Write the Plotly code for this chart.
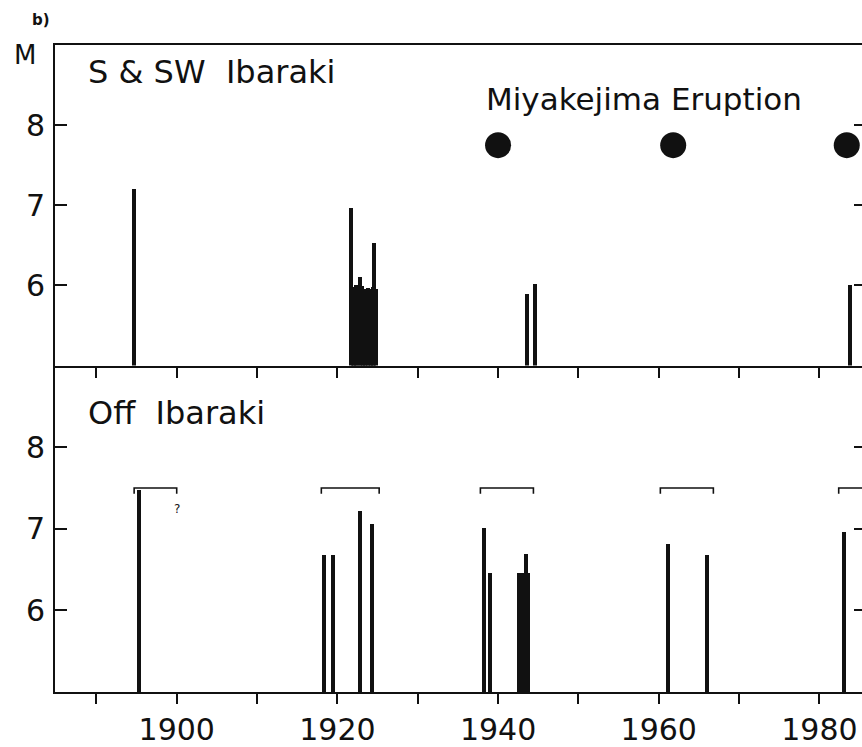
import plotly.graph_objects as go

# ---------------- data ----------------
# S & SW Ibaraki (upper panel)
top_years = [1894.7, 1921.7, 1921.9, 1922.1, 1922.3, 1922.5, 1922.8, 1923.0, 1923.2,
             1923.4, 1923.6, 1923.8, 1924.0, 1924.2, 1924.4, 1924.55, 1924.8,
             1943.6, 1944.6, 1983.85]
top_mag = [7.20, 6.97, 5.98, 5.95, 6.00, 5.97, 6.10, 5.99, 5.93,
           5.96, 5.94, 5.97, 5.95, 5.96, 5.98, 6.53, 5.96,
           5.89, 6.02, 6.00]

# Off Ibaraki (lower panel)
off_years = [1895.3, 1918.35, 1919.4, 1922.8, 1924.3,
             1938.2, 1939.0, 1942.6, 1942.85, 1943.1, 1943.45, 1943.75,
             1961.1, 1966.05, 1983.1]
off_mag = [7.48, 6.68, 6.69, 7.22, 7.07,
           7.01, 6.46, 6.46, 6.46, 6.47, 6.70, 6.46,
           6.82, 6.68, 6.97]

# Miyakejima eruptions
eruption_years = [1940.0, 1961.8, 1983.4]
eruption_mag = [7.75, 7.75, 7.75]

# brackets over the Off Ibaraki sequences
bracket_start = [1894.7, 1918.0, 1937.8, 1960.2, 1982.4]
bracket_end = [1900.0, 1925.2, 1944.4, 1966.8, 1986.5]
bracket_level = 7.5

x_tick_vals = [1890, 1900, 1910, 1920, 1930, 1940, 1950, 1960, 1970, 1980]
x_tick_text = ["", "1900", "", "1920", "", "1940", "", "1960", "", "1980"]
y_tick_vals = [6, 7, 8]
y_tick_text = ["6", "7", "8"]
base_mag = 5
y_range = [5, 9]
x_range = [1884.85, 1985.3]

# ---------------- figure ----------------
INK = "#111111"
FONT = "DejaVu Sans"

fig = go.Figure()

fig.add_trace(go.Bar(
    x=top_years, y=[m - base_mag for m in top_mag], base=base_mag,
    width=0.5, marker=dict(color=INK, line=dict(width=0)),
    xaxis="x", yaxis="y", showlegend=False))

fig.add_trace(go.Scatter(
    x=eruption_years, y=eruption_mag, mode="markers",
    marker=dict(size=26, color=INK, line=dict(width=0)),
    xaxis="x", yaxis="y", showlegend=False))

fig.add_trace(go.Bar(
    x=off_years, y=[m - base_mag for m in off_mag], base=base_mag,
    width=0.5, marker=dict(color=INK, line=dict(width=0)),
    xaxis="x2", yaxis="y2", showlegend=False))

bx, by = [], []
for s, e in zip(bracket_start, bracket_end):
    bx += [s, s, e, e, None]
    by += [bracket_level - 0.07, bracket_level, bracket_level, bracket_level - 0.07, None]
fig.add_trace(go.Scatter(
    x=bx, y=by, mode="lines", line=dict(color=INK, width=1.6),
    xaxis="x2", yaxis="y2", showlegend=False, cliponaxis=True))

# invisible traces for right-hand tick axes
fig.add_trace(go.Scatter(x=[x_range[0]], y=[5], mode="markers", marker=dict(opacity=0),
                         xaxis="x", yaxis="y3", showlegend=False, hoverinfo="skip"))
fig.add_trace(go.Scatter(x=[x_range[0]], y=[5], mode="markers", marker=dict(opacity=0),
                         xaxis="x2", yaxis="y4", showlegend=False, hoverinfo="skip"))

split = 329 / 652

common_x = dict(range=x_range, tickvals=x_tick_vals, ticks="outside", ticklen=10,
                tickwidth=2, tickcolor=INK, showline=True, linewidth=2, linecolor=INK,
                showgrid=False, zeroline=False, domain=[0, 1])
common_y = dict(range=y_range, tickvals=y_tick_vals, ticktext=y_tick_text,
                ticks="inside", ticklen=12, tickwidth=2, tickcolor=INK,
                showline=True, linewidth=2, linecolor=INK, showgrid=False,
                zeroline=False, tickfont=dict(family=FONT, size=30, color=INK),
                ticklabelstandoff=2)
right_y = dict(range=y_range, tickvals=y_tick_vals, ticks="inside", ticklen=8,
               tickwidth=2, tickcolor=INK, showticklabels=False, showline=False,
               showgrid=False, zeroline=False, side="right")

fig.update_layout(
    width=862, height=747,
    margin=dict(l=55, r=0, t=45, b=50),
    paper_bgcolor="white", plot_bgcolor="white",
    barmode="overlay", bargap=0,
    xaxis=dict(**common_x, anchor="y", mirror=True, showticklabels=False),
    yaxis=dict(**common_y, domain=[split, 1], anchor="x"),
    xaxis2=dict(**common_x, anchor="y2", matches="x", ticktext=x_tick_text,
                tickfont=dict(family=FONT, size=30, color=INK)),
    yaxis2=dict(**common_y, domain=[0, split], anchor="x2"),
    yaxis3=dict(**right_y, overlaying="y", anchor="x"),
    yaxis4=dict(**right_y, overlaying="y2", anchor="x2"),
    font=dict(family=FONT, color=INK),
    annotations=[
        dict(text="<b>b)</b>", xref="paper", yref="paper", x=-0.0173, y=1.038,
             xanchor="center", yanchor="middle", showarrow=False,
             font=dict(family=FONT, size=15, color=INK)),
        dict(text="M", xref="paper", yref="paper", x=-0.037, y=0.985,
             xanchor="center", yanchor="middle", showarrow=False,
             font=dict(family=FONT, size=26, color=INK)),
        dict(text="S & SW\u00a0\u00a0Ibaraki", xref="x domain", yref="y domain",
             x=0.039, y=0.916, xanchor="left", yanchor="middle", showarrow=False,
             font=dict(family=FONT, size=32, color=INK)),
        dict(text="Miyakejima Eruption", xref="x domain", yref="y domain",
             x=0.531, y=0.83, xanchor="left", yanchor="middle", showarrow=False,
             font=dict(family=FONT, size=31, color=INK)),
        dict(text="Off\u00a0\u00a0Ibaraki", xref="x2 domain", yref="y2 domain",
             x=0.039, y=0.855, xanchor="left", yanchor="middle", showarrow=False,
             font=dict(family=FONT, size=32, color=INK)),
        dict(text="?", xref="x2", yref="y2", x=1900.0, y=7.24,
             xanchor="center", yanchor="middle", showarrow=False,
             font=dict(family=FONT, size=12, color=INK)),
    ],
)

# place the figure at the window's top-left corner without scrollbars
fig.write_html(
    "out.html",
    config={"displayModeBar": False},
    post_script="document.body.style.margin='0';"
                "document.documentElement.style.overflow='hidden';"
                "document.body.style.overflow='hidden';",
)
